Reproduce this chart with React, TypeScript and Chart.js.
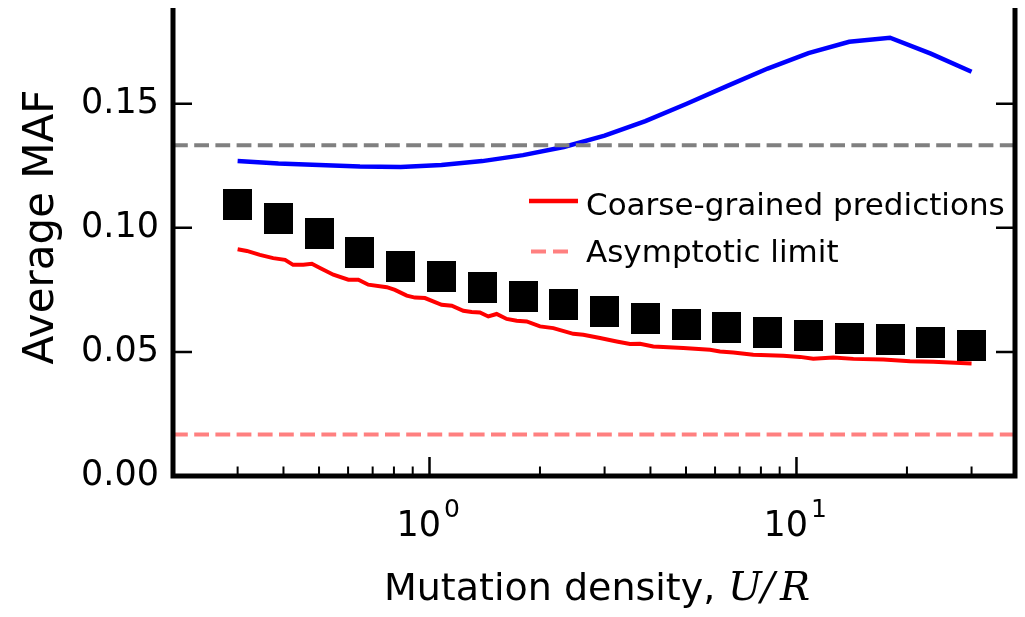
import { useEffect, useRef } from 'react';
import { Chart, registerables } from 'chart.js';

Chart.register(...registerables);

const FONT = "'DejaVu Sans', sans-serif";
const MATH_FONT = "'DejaVu Serif', serif";

// Axis ranges and ticks
const X_MIN = 0.2;
const X_MAX = 39.4;
const Y_MIN = 0;
const Y_MAX = 0.1886;
const Y_TICKS = [0, 0.05, 0.1, 0.15];
const X_MAJOR_TICKS = [1, 10];
const X_MAJOR_EXPONENTS = ['0', '1'];
const X_MINOR_TICKS = [0.3, 0.4, 0.5, 0.6, 0.7, 0.8, 0.9, 2, 3, 4, 5, 6, 7, 8, 9, 20, 30];

// Simulated average MAF (black squares) and upper curve (blue)
const DENSITY = [
  0.3, 0.3875, 0.5004, 0.6463, 0.8348, 1.0782, 1.3925, 1.7985, 2.3229, 3.0,
  3.875, 5.004, 6.463, 8.348, 10.782, 13.925, 17.985, 23.229, 30.0,
];
const SIMULATED_MAF = [
  0.1094, 0.1037, 0.0977, 0.09, 0.0844, 0.0803, 0.0759, 0.0724, 0.0693, 0.0661,
  0.0634, 0.061, 0.0598, 0.0579, 0.0567, 0.0554, 0.0549, 0.0539, 0.0526,
];
const UPPER_MAF = [
  0.1269, 0.1259, 0.1253, 0.1247, 0.1245, 0.1253, 0.1269, 0.1293, 0.1326, 0.1372,
  0.143, 0.1499, 0.1571, 0.1642, 0.1704, 0.175, 0.1766, 0.1702, 0.1629,
];

// Coarse-grained predictions (red)
const COARSE_DENSITY = [
  0.3, 0.318, 0.345, 0.375, 0.404, 0.425, 0.453, 0.478, 0.503, 0.547,
  0.601, 0.64, 0.681, 0.765, 0.805, 0.867, 0.913, 0.972, 1.079, 1.15,
  1.236, 1.303, 1.372, 1.446, 1.524, 1.623, 1.728, 1.84, 2.0, 2.175,
  2.465, 2.625, 2.915, 3.237, 3.518, 3.746, 4.072, 4.915, 5.813, 6.188,
  6.727, 7.626, 9.205, 10.22, 11.11, 12.6, 14.29, 17.25, 20.39, 23.59, 30.0,
];
const COARSE_MAF = [
  0.0914, 0.0907, 0.0891, 0.0878, 0.0871, 0.0851, 0.0851, 0.0855, 0.0838, 0.0811,
  0.0791, 0.0791, 0.0771, 0.0761, 0.075, 0.0727, 0.0719, 0.0717, 0.069, 0.0686,
  0.0666, 0.0661, 0.0659, 0.0643, 0.0653, 0.0633, 0.0626, 0.0623, 0.0603, 0.0596,
  0.0573, 0.0569, 0.0556, 0.0542, 0.0532, 0.0533, 0.0522, 0.0516, 0.0509, 0.0502,
  0.0498, 0.0489, 0.0485, 0.048, 0.0473, 0.0478, 0.0472, 0.0469, 0.0462, 0.046, 0.0453,
];

// Horizontal reference levels
const NEUTRAL_LEVEL = 0.1333;
const ASYMPTOTIC_LEVEL = 0.0167;

const LEGEND_LABELS = ['Coarse-grained predictions', 'Asymptotic limit'];

const RED = '#ff0000';
const PINK = '#ff8080';
const GRAY = '#808080';
const BLUE = '#0000ff';
const DASH = [14.8, 6.4];

const axesPlugin = {
  id: 'axesDecor',
  afterDraw(chart: any) {
    const { ctx, chartArea, scales } = chart;
    const { left, right, top, bottom } = chartArea;
    const x = scales.x;
    const y = scales.y;
    ctx.save();

    // spines (no top spine)
    ctx.strokeStyle = '#000';
    ctx.lineCap = 'butt';
    ctx.lineWidth = 5;
    ctx.beginPath();
    ctx.moveTo(left, top);
    ctx.lineTo(left, bottom + 2.5);
    ctx.moveTo(left - 2.5, bottom);
    ctx.lineTo(right + 2.5, bottom);
    ctx.moveTo(right, top);
    ctx.lineTo(right, bottom + 2.5);
    ctx.stroke();

    // inward y ticks on both sides
    ctx.lineWidth = 2.5;
    ctx.beginPath();
    Y_TICKS.forEach((v) => {
      if (v === 0) return;
      const py = y.getPixelForValue(v);
      ctx.moveTo(left, py);
      ctx.lineTo(left + 19, py);
      ctx.moveTo(right, py);
      ctx.lineTo(right - 19, py);
    });
    ctx.stroke();

    // inward x ticks
    ctx.beginPath();
    X_MAJOR_TICKS.forEach((v) => {
      const px = x.getPixelForValue(v);
      ctx.moveTo(px, bottom);
      ctx.lineTo(px, bottom - 19);
    });
    ctx.stroke();
    ctx.lineWidth = 2;
    ctx.beginPath();
    X_MINOR_TICKS.forEach((v) => {
      const px = x.getPixelForValue(v);
      ctx.moveTo(px, bottom);
      ctx.lineTo(px, bottom - 9.5);
    });
    ctx.stroke();

    // x tick labels as powers of ten
    ctx.fillStyle = '#000';
    ctx.textAlign = 'left';
    ctx.textBaseline = 'alphabetic';
    X_MAJOR_TICKS.forEach((v, i) => {
      const px = x.getPixelForValue(v);
      const x0 = px - 33;
      ctx.font = `35px ${FONT}`;
      ctx.fillText('10', x0, 536);
      const w = ctx.measureText('10').width;
      ctx.font = `25px ${FONT}`;
      ctx.fillText(X_MAJOR_EXPONENTS[i], x0 + w + 3, 517);
    });

    // x axis title
    ctx.font = `38px ${FONT}`;
    ctx.fillText('Mutation density,', 384, 600);
    ctx.font = `italic 40px ${MATH_FONT}`;
    ctx.fillText('U', 728, 600);
    ctx.fillText('/', 761, 600);
    ctx.fillText('R', 780, 600);

    // y axis title
    ctx.save();
    ctx.translate(53, 227);
    ctx.rotate(-Math.PI / 2);
    ctx.textAlign = 'center';
    ctx.font = `42px ${FONT}`;
    ctx.fillText('Average MAF', 0, 0);
    ctx.restore();

    // legend
    ctx.lineWidth = 4.5;
    ctx.strokeStyle = RED;
    ctx.beginPath();
    ctx.moveTo(529, 201);
    ctx.lineTo(578, 201);
    ctx.stroke();
    ctx.strokeStyle = PINK;
    ctx.lineWidth = 4;
    ctx.setLineDash([15, 7]);
    ctx.beginPath();
    ctx.moveTo(531, 251.5);
    ctx.lineTo(569, 251.5);
    ctx.stroke();
    ctx.setLineDash([]);
    ctx.font = `31px ${FONT}`;
    ctx.fillStyle = '#000';
    ctx.fillText(LEGEND_LABELS[0], 586, 215);
    ctx.fillText(LEGEND_LABELS[1], 586, 261.5);

    ctx.restore();
  },
};

export default function App() {
  const ref = useRef<HTMLCanvasElement>(null);

  useEffect(() => {
    const canvas = ref.current;
    if (!canvas) return;

    const marker = document.createElement('canvas');
    marker.width = 29;
    marker.height = 31;
    const mctx = marker.getContext('2d');
    if (mctx) {
      mctx.fillStyle = '#000';
      mctx.fillRect(0, 0, 29, 31);
    }

    const pts = (xs: number[], ys: number[]) => xs.map((v, i) => ({ x: v, y: ys[i] }));
    const level = (v: number) => [
      { x: X_MIN, y: v },
      { x: X_MAX, y: v },
    ];

    const chart = new Chart(canvas, {
      type: 'scatter',
      data: {
        datasets: [
          {
            label: 'upper',
            data: pts(DENSITY, UPPER_MAF),
            showLine: true,
            borderColor: BLUE,
            borderWidth: 4.5,
            pointRadius: 0,
            order: 6,
          },
          {
            label: 'neutral',
            data: level(NEUTRAL_LEVEL),
            showLine: true,
            borderColor: GRAY,
            borderWidth: 4,
            borderDash: DASH,
            pointRadius: 0,
            order: 5,
          },
          {
            label: 'simulated',
            data: pts(DENSITY, SIMULATED_MAF),
            showLine: false,
            pointStyle: marker,
            pointRadius: 15,
            backgroundColor: '#000',
            borderColor: '#000',
            order: 4,
          },
          {
            label: LEGEND_LABELS[0],
            data: pts(COARSE_DENSITY, COARSE_MAF),
            showLine: true,
            borderColor: RED,
            borderWidth: 4,
            pointRadius: 0,
            order: 3,
          },
          {
            label: LEGEND_LABELS[1],
            data: level(ASYMPTOTIC_LEVEL),
            showLine: true,
            borderColor: PINK,
            borderWidth: 4,
            borderDash: DASH,
            pointRadius: 0,
            order: 2,
          },
        ],
      },
      options: {
        animation: false,
        responsive: false,
        devicePixelRatio: 1,
        layout: { autoPadding: false, padding: { top: 8, right: 10, left: 0, bottom: 0 } },
        plugins: {
          legend: { display: false },
          tooltip: { enabled: false },
        },
        scales: {
          x: {
            type: 'logarithmic',
            min: X_MIN,
            max: X_MAX,
            grid: { display: false, drawTicks: false },
            border: { display: false },
            ticks: { display: false },
            afterFit: (s: any) => {
              s.height = 141;
              s.paddingLeft = 0;
              s.paddingRight = 0;
            },
          },
          y: {
            type: 'linear',
            min: Y_MIN,
            max: Y_MAX,
            grid: { display: false, drawTicks: false },
            border: { display: false },
            afterBuildTicks: (s: any) => {
              s.ticks = Y_TICKS.map((v) => ({ value: v }));
            },
            ticks: {
              color: '#000',
              padding: 14,
              font: { family: FONT, size: 35 },
              callback: (v: any) => Number(v).toFixed(2),
            },
            afterFit: (s: any) => {
              s.width = 173;
              s.paddingTop = 0;
              s.paddingBottom = 0;
            },
          },
        },
      },
      plugins: [axesPlugin],
    } as any);

    return () => chart.destroy();
  }, []);

  return (
    <div style={{ position: 'fixed', left: 0, top: 0, width: 1025, height: 617, background: '#fff' }}>
      <canvas ref={ref} width={1025} height={617} style={{ display: 'block', width: 1025, height: 617 }} />
    </div>
  );
}
